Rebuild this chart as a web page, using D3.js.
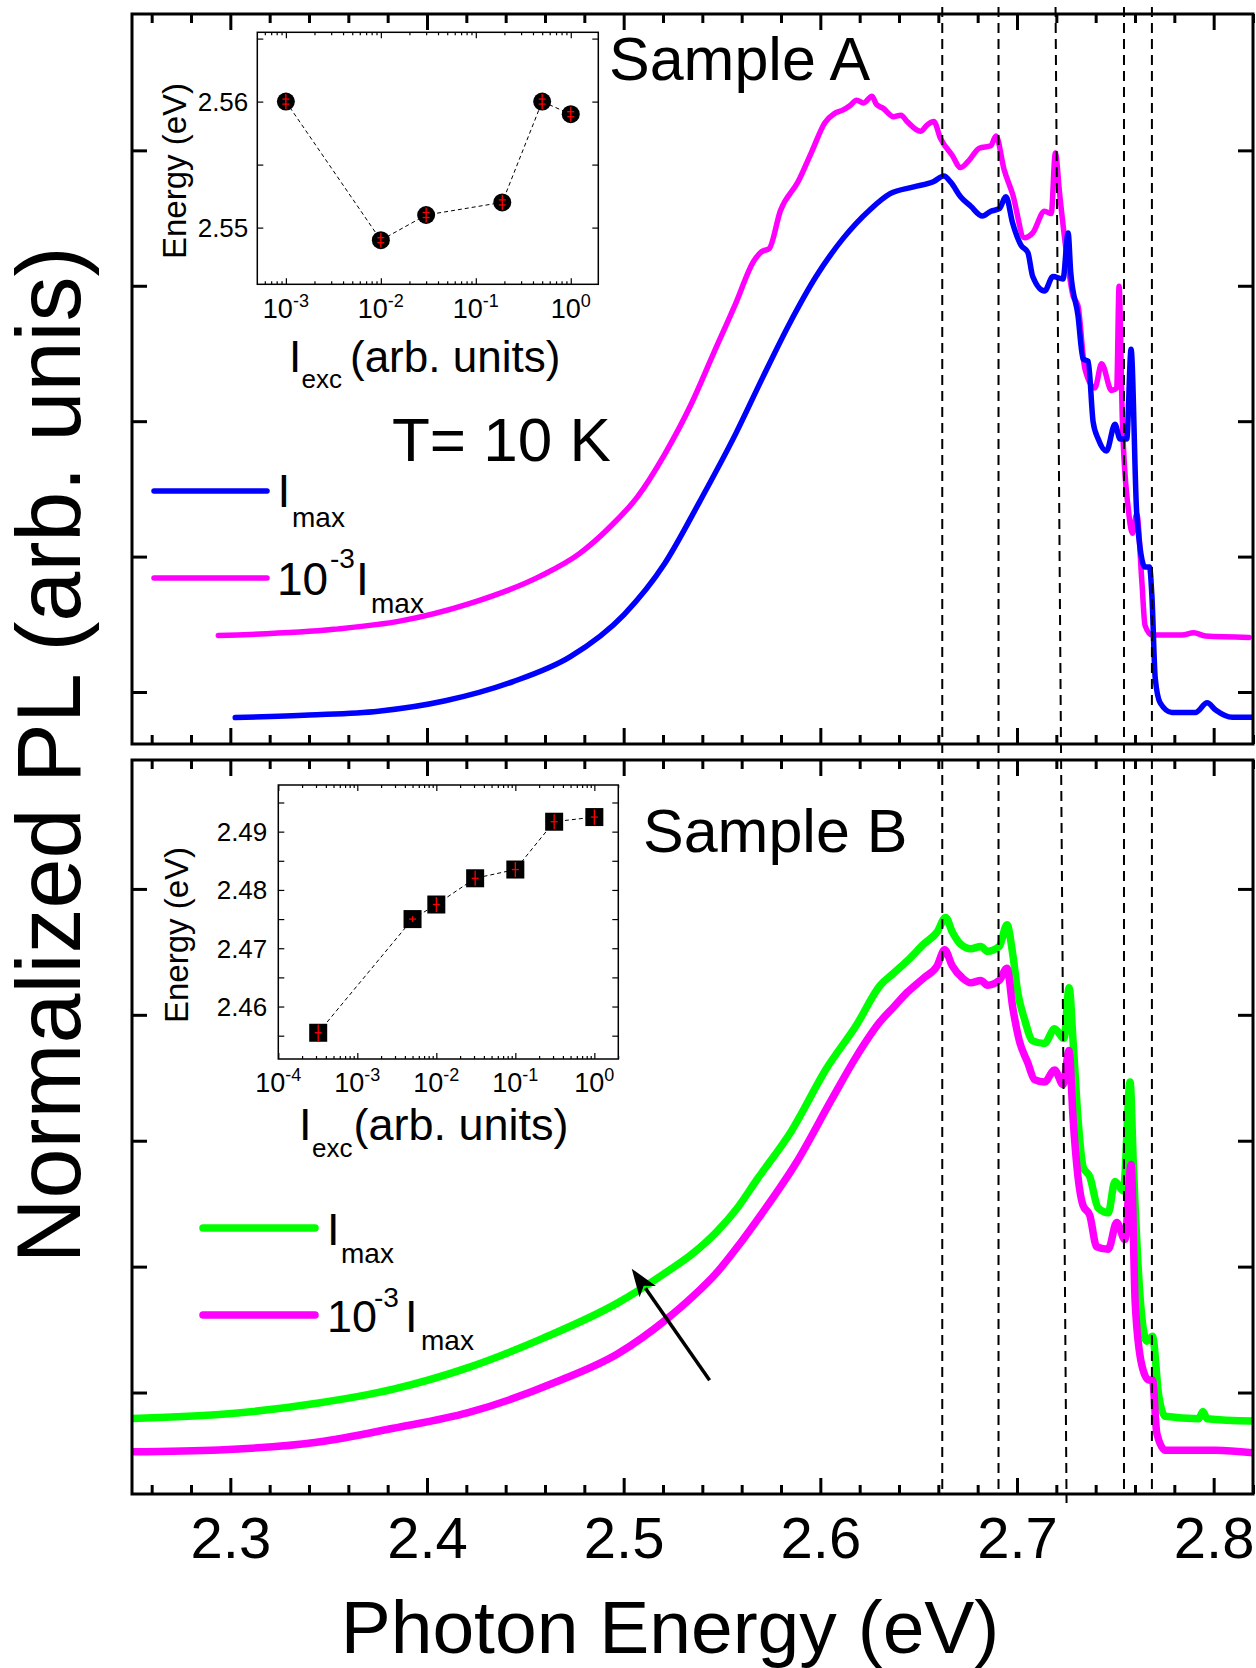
<!DOCTYPE html>
<html><head><meta charset="utf-8">
<script src="https://cdn.jsdelivr.net/npm/d3@7"></script>
<style>
body{margin:0;background:#fff}
svg{display:block;background:#fff}
text{font-family:"Liberation Sans",Arial,Helvetica,sans-serif;fill:#000}
</style>
</head><body>
<svg id="chart" width="1256" height="1668"></svg>
<script>
// ---------------- data ----------------
const xTicks = [2.3, 2.4, 2.5, 2.6, 2.7, 2.8];
const xTickLabels = ["2.3", "2.4", "2.5", "2.6", "2.7", "2.8"];
const yTicksMain = [0, 1, 2, 3, 4];
const dashedLines = [2.662, 2.6906, 2.7544, 2.7686];
const slantedLine = [2.7196, 2.7252];

// Sample A, I_max (blue)
const sampleA_Imax = [[2.3025,-0.189],[2.3400,-0.170],[2.3753,-0.142],[2.4093,-0.065],[2.4434,0.075],[2.4729,0.261],[2.5002,0.572],[2.5207,0.945],[2.5388,1.410],[2.5570,1.908],[2.5706,2.320],[2.5843,2.720],[2.5979,3.070],[2.6116,3.350],[2.6251,3.560],[2.6355,3.680],[2.6475,3.730],[2.6577,3.770],[2.6628,3.810],[2.6663,3.765],[2.6713,3.658],[2.6765,3.587],[2.6824,3.515],[2.6867,3.551],[2.6910,3.569],[2.6944,3.658],[2.6978,3.461],[2.7020,3.300],[2.7055,3.247],[2.7080,3.068],[2.7140,2.961],[2.7183,3.068],[2.7234,3.050],[2.7260,3.390],[2.7273,3.104],[2.7310,2.782],[2.7336,2.460],[2.7362,2.442],[2.7387,1.995],[2.7413,1.869],[2.7455,1.780],[2.7498,1.977],[2.7524,1.869],[2.7558,1.869],[2.7580,2.531],[2.7609,1.315],[2.7651,0.923],[2.7674,0.923],[2.7686,0.708],[2.7703,0.099],[2.7728,-0.080],[2.7788,-0.151],[2.7907,-0.151],[2.7967,-0.080],[2.8010,-0.133],[2.8095,-0.187],[2.8206,-0.187]];
// Sample A, 10^-3 I_max (magenta)
const sampleA_low = [[2.2939,0.417],[2.3526,0.463],[2.3867,0.525],[2.4207,0.649],[2.4571,0.852],[2.4775,1.022],[2.4934,1.224],[2.5070,1.441],[2.5207,1.752],[2.5343,2.125],[2.5456,2.497],[2.5570,2.870],[2.5661,3.181],[2.5700,3.250],[2.5740,3.274],[2.5797,3.554],[2.5888,3.771],[2.5956,3.989],[2.6024,4.206],[2.6070,4.270],[2.6116,4.299],[2.6150,4.330],[2.6185,4.370],[2.6220,4.350],[2.6263,4.400],[2.6285,4.340],[2.6320,4.310],[2.6372,4.249],[2.6410,4.260],[2.6441,4.213],[2.6509,4.141],[2.6545,4.190],[2.6577,4.213],[2.6611,4.088],[2.6671,3.962],[2.6713,3.873],[2.6756,3.926],[2.6808,4.016],[2.6867,4.034],[2.6893,4.106],[2.6935,3.855],[2.6978,3.676],[2.7038,3.354],[2.7080,3.390],[2.7140,3.551],[2.7174,3.533],[2.7195,3.980],[2.7217,3.676],[2.7251,3.247],[2.7285,2.925],[2.7310,2.853],[2.7345,2.388],[2.7396,2.245],[2.7430,2.424],[2.7481,2.227],[2.7507,2.245],[2.7519,2.996],[2.7536,1.995],[2.7566,1.351],[2.7587,1.172],[2.7609,1.315],[2.7635,0.814],[2.7651,0.492],[2.7686,0.421],[2.7839,0.421],[2.7899,0.438],[2.7958,0.413],[2.8180,0.403]];
// Sample B, I_max (green)
const sampleB_Imax = [[2.2500,-0.206],[2.2943,-0.175],[2.3449,-0.083],[2.3829,0.027],[2.4209,0.198],[2.4588,0.430],[2.4968,0.710],[2.5221,0.960],[2.5348,1.100],[2.5475,1.280],[2.5580,1.470],[2.5677,1.690],[2.5854,2.080],[2.6032,2.575],[2.6183,2.917],[2.6305,3.235],[2.6373,3.331],[2.6441,3.427],[2.6526,3.562],[2.6594,3.658],[2.6637,3.774],[2.6671,3.658],[2.6713,3.562],[2.6765,3.524],[2.6816,3.543],[2.6850,3.504],[2.6910,3.543],[2.6949,3.716],[2.6978,3.485],[2.7004,3.177],[2.7038,2.966],[2.7080,2.793],[2.7140,2.773],[2.7191,2.889],[2.7239,2.812],[2.7265,3.216],[2.7285,2.793],[2.7310,2.178],[2.7336,1.792],[2.7370,1.715],[2.7413,1.465],[2.7464,1.427],[2.7498,1.677],[2.7541,1.600],[2.7575,2.466],[2.7592,1.792],[2.7626,0.754],[2.7660,0.408],[2.7689,0.446],[2.7720,-0.016],[2.7754,-0.189],[2.7925,-0.208],[2.7945,-0.150],[2.7967,-0.208],[2.8200,-0.227]];
// Sample B, 10^-3 I_max (magenta)
const sampleB_low = [[2.2500,-0.471],[2.2943,-0.456],[2.3449,-0.393],[2.3829,-0.284],[2.4209,-0.160],[2.4665,0.089],[2.4968,0.306],[2.5221,0.586],[2.5350,0.760],[2.5475,0.955],[2.5590,1.180],[2.5702,1.420],[2.5879,1.829],[2.6057,2.326],[2.6183,2.668],[2.6305,2.947],[2.6373,3.062],[2.6441,3.177],[2.6526,3.293],[2.6594,3.389],[2.6632,3.516],[2.6671,3.389],[2.6722,3.293],[2.6765,3.254],[2.6816,3.273],[2.6850,3.235],[2.6910,3.273],[2.6949,3.370],[2.6978,3.062],[2.7012,2.793],[2.7055,2.619],[2.7089,2.485],[2.7140,2.466],[2.7191,2.562],[2.7234,2.446],[2.7265,2.716],[2.7285,2.178],[2.7310,1.715],[2.7336,1.485],[2.7370,1.408],[2.7405,1.158],[2.7464,1.138],[2.7507,1.350],[2.7549,1.215],[2.7580,1.811],[2.7601,0.715],[2.7635,0.215],[2.7669,0.100],[2.7689,0.100],[2.7711,-0.324],[2.7754,-0.458],[2.8010,-0.458],[2.8200,-0.478]];

// Insets
const insetA_I = [0.001, 0.01, 0.03, 0.19, 0.5, 1];
const insetA_E = [2.560, 2.549, 2.551, 2.552, 2.560, 2.559];
const insetA_err = [0.0006, 0.0006, 0.0006, 0.0006, 0.0006, 0.0006];
const insetA_yTicks = [2.55, 2.555, 2.56, 2.565];
const insetA_yLabels = [2.55, 2.56];
const insetB_I = [3.2e-4, 5e-3, 1e-2, 3.1e-2, 0.1, 0.31, 1];
const insetB_E = [2.4555, 2.4750, 2.4775, 2.4820, 2.4835, 2.4917, 2.4925];
const insetB_err = [0.0014, 0.0005, 0.0013, 0.0013, 0.0013, 0.0013, 0.0013];
const insetB_yTicks = [2.455, 2.46, 2.465, 2.47, 2.475, 2.48, 2.485, 2.49, 2.495];
const insetB_yLabels = [2.46, 2.47, 2.48, 2.49];

// arrow (bottom panel data coords): from -> to
const arrowFrom = [2.5437, 0.097];
const arrowTo = [2.5041, 0.984];

// ---------------- drawing ----------------
const svg = d3.select('#chart');
const BLUE = '#0000ff', MAG = '#ff00ff', GREEN = '#00ff00';

const x = d3.scaleLinear().domain([2.25, 2.82]).range([132, 1253]);
const panels = [
  { y: d3.scaleLinear().domain([-0.384, 5.007]).range([744, 14]), top: 14, bottom: 744, lw: 5.5,
    series: [{ data: sampleA_low, color: MAG }, { data: sampleA_Imax, color: BLUE }] },
  { y: d3.scaleLinear().domain([-0.806, 5.024]).range([1494, 760]), top: 760, bottom: 1494, lw: 7.5,
    series: [{ data: sampleB_Imax, color: GREEN }, { data: sampleB_low, color: MAG }] }
];
const X0 = x.range()[0], X1 = x.range()[1];

const defs = svg.append('defs');
panels.forEach((p, i) => {
  defs.append('clipPath').attr('id', 'clip' + i).append('rect')
    .attr('x', X0).attr('y', p.top).attr('width', X1 - X0).attr('height', p.bottom - p.top);
});

const minorX = d3.range(2.26, 2.8201, 0.02).filter(v => !xTicks.some(t => Math.abs(t - v) < 1e-6));

panels.forEach((p, i) => {
  const g = svg.append('g');
  const line = d3.line().x(d => x(d[0])).y(d => p.y(d[1])).curve(d3.curveMonotoneX);
  const cg = g.append('g').attr('clip-path', `url(#clip${i})`);
  p.series.forEach(s => {
    cg.append('path').datum(s.data).attr('d', line).attr('fill', 'none')
      .attr('stroke', s.color).attr('stroke-width', p.lw)
      .attr('stroke-linejoin', 'round').attr('stroke-linecap', 'round');
  });
  const style = a => { a.select('.domain').remove(); a.selectAll('line').attr('stroke', '#000').attr('stroke-width', 3); };
  const bot = g.append('g').attr('transform', `translate(0,${p.bottom})`)
    .call(d3.axisBottom(x).tickValues(xTicks).tickSize(-16).tickPadding(23)
      .tickFormat((d, k) => i === 1 ? xTickLabels[k] : ''));
  style(bot);
  bot.selectAll('text').attr('font-size', 58).attr('font-family', '"Liberation Sans",Arial,sans-serif').attr('fill', '#000');
  style(g.append('g').attr('transform', `translate(0,${p.bottom})`).call(d3.axisBottom(x).tickValues(minorX).tickSize(-9).tickFormat('')));
  style(g.append('g').attr('transform', `translate(0,${p.top})`).call(d3.axisTop(x).tickValues(xTicks).tickSize(-16).tickFormat('')));
  style(g.append('g').attr('transform', `translate(0,${p.top})`).call(d3.axisTop(x).tickValues(minorX).tickSize(-9).tickFormat('')));
  style(g.append('g').attr('transform', `translate(${X0},0)`).call(d3.axisLeft(p.y).tickValues(yTicksMain).tickSize(-15).tickFormat('')));
  style(g.append('g').attr('transform', `translate(${X1},0)`).call(d3.axisRight(p.y).tickValues(yTicksMain).tickSize(-15).tickFormat('')));
  g.append('rect').attr('x', X0).attr('y', p.top).attr('width', X1 - X0).attr('height', p.bottom - p.top)
    .attr('fill', 'none').attr('stroke', '#000').attr('stroke-width', 3);
});

// dashed guide lines crossing both panels
const dg = svg.append('g').attr('stroke', '#000').attr('stroke-width', 2).attr('stroke-dasharray', '10,6').attr('fill', 'none');
dashedLines.forEach(v => {
  dg.append('line').attr('x1', x(v)).attr('x2', x(v)).attr('y1', 7).attr('y2', 1494);
});
dg.append('line').attr('x1', x(slantedLine[0])).attr('x2', x(slantedLine[1])).attr('y1', 7).attr('y2', 1503);

// ---------------- insets ----------------
function drawInset(cfg) {
  const g = svg.append('g');
  const [l, r] = cfg.ix.range(); const [b, t] = cfg.iy.range();
  g.append('rect').attr('x', l).attr('y', t).attr('width', r - l).attr('height', b - t).attr('fill', '#fff');
  const st = a => { a.select('.domain').remove(); a.selectAll('line').attr('stroke', '#000').attr('stroke-width', 1.2); };
  const dom = cfg.ix.domain();
  const decades = [], minors = [];
  for (let e = -5; e <= 1; e++) {
    const dv = Math.pow(10, e);
    if (dv >= dom[0] * 0.999 && dv <= dom[1]) decades.push(dv);
    for (let m = 2; m <= 9; m++) { const v = m * dv; if (v > dom[0] && v < dom[1]) minors.push(v); }
  }
  st(g.append('g').attr('transform', `translate(0,${b})`).call(d3.axisBottom(cfg.ix).tickValues(decades).tickSize(-6).tickFormat('')));
  st(g.append('g').attr('transform', `translate(0,${b})`).call(d3.axisBottom(cfg.ix).tickValues(minors).tickSize(-3).tickFormat('')));
  st(g.append('g').attr('transform', `translate(0,${t})`).call(d3.axisTop(cfg.ix).tickValues(decades).tickSize(-6).tickFormat('')));
  st(g.append('g').attr('transform', `translate(0,${t})`).call(d3.axisTop(cfg.ix).tickValues(minors).tickSize(-3).tickFormat('')));
  st(g.append('g').attr('transform', `translate(${l},0)`).call(d3.axisLeft(cfg.iy).tickValues(cfg.yTicks).tickSize(-6).tickFormat('')));
  st(g.append('g').attr('transform', `translate(${r},0)`).call(d3.axisRight(cfg.iy).tickValues(cfg.yTicks).tickSize(-6).tickFormat('')));
  g.append('rect').attr('x', l).attr('y', t).attr('width', r - l).attr('height', b - t)
    .attr('fill', 'none').attr('stroke', '#000').attr('stroke-width', 1.5);
  decades.forEach(v => {
    const e = Math.round(Math.log10(v));
    const tx = g.append('text').attr('x', cfg.ix(v)).attr('y', cfg.xLabelY).attr('text-anchor', 'middle').attr('font-size', 27);
    tx.append('tspan').text('10');
    tx.append('tspan').attr('font-size', 18).attr('dy', -11).text(String(e));
  });
  cfg.yLabels.forEach(v => {
    g.append('text').attr('x', l - cfg.yLabelGap).attr('y', cfg.iy(v)).attr('dy', '0.36em')
      .attr('text-anchor', 'end').attr('font-size', 26).text(v.toFixed(2));
  });
  g.append('text').attr('transform', `translate(${cfg.eLabel[0]},${cfg.eLabel[1]}) rotate(-90)`)
    .attr('text-anchor', 'middle').attr('font-size', 33).text('Energy (eV)');
  const il = g.append('text').attr('font-size', cfg.iLabel.fs);
  il.append('tspan').attr('x', cfg.iLabel.I[0]).attr('y', cfg.iLabel.I[1]).text('I');
  il.append('tspan').attr('x', cfg.iLabel.sub[0]).attr('y', cfg.iLabel.sub[1]).attr('font-size', 26).text('exc');
  il.append('tspan').attr('x', cfg.iLabel.rest[0]).attr('y', cfg.iLabel.I[1]).text('(arb. units)');
  const pts = cfg.xs.map((v, k) => [v, cfg.ys[k]]);
  g.append('path').datum(pts).attr('d', d3.line().x(d => cfg.ix(d[0])).y(d => cfg.iy(d[1])))
    .attr('fill', 'none').attr('stroke', '#000').attr('stroke-width', 1).attr('stroke-dasharray', '4,3');
  pts.forEach((d, k) => {
    const cx = cfg.ix(d[0]), cy = cfg.iy(d[1]);
    if (cfg.shape === 'circle') {
      g.append('circle').attr('cx', cx).attr('cy', cy).attr('r', 9).attr('fill', '#000');
    } else {
      g.append('rect').attr('x', cx - 9).attr('y', cy - 9).attr('width', 18).attr('height', 18).attr('fill', '#000');
    }
    const e1 = cfg.iy(d[1] + cfg.err[k]), e2 = cfg.iy(d[1] - cfg.err[k]);
    const eg = g.append('g').attr('stroke', '#ff0000').attr('stroke-width', 1.3);
    eg.append('line').attr('x1', cx).attr('x2', cx).attr('y1', e1).attr('y2', e2);
    if (cfg.shape === 'circle') {
      eg.append('line').attr('x1', cx - 3.5).attr('x2', cx + 3.5).attr('y1', cy - 2.5).attr('y2', cy - 2.5);
      eg.append('line').attr('x1', cx - 3.5).attr('x2', cx + 3.5).attr('y1', cy + 2.5).attr('y2', cy + 2.5);
    } else {
      eg.append('line').attr('x1', cx - 3.5).attr('x2', cx + 3.5).attr('y1', cy).attr('y2', cy);
    }
  });
}

drawInset({
  ix: d3.scaleLog().domain([5e-4, 1.95]).range([257.3, 598.3]),
  iy: d3.scaleLinear().domain([2.5455, 2.5655]).range([284.3, 32.3]),
  xs: insetA_I, ys: insetA_E, err: insetA_err, shape: 'circle',
  yTicks: insetA_yTicks, yLabels: insetA_yLabels, yLabelGap: 9, xLabelY: 318,
  eLabel: [186, 171],
  iLabel: { fs: 44, I: [289, 372], sub: [301.5, 388], rest: [350, 372] }
});
drawInset({
  ix: d3.scaleLog().domain([1e-4, 2.01]).range([278.3, 618.3]),
  iy: d3.scaleLinear().domain([2.451, 2.498]).range([1059, 785]),
  xs: insetB_I, ys: insetB_E, err: insetB_err, shape: 'square',
  yTicks: insetB_yTicks, yLabels: insetB_yLabels, yLabelGap: 11, xLabelY: 1092,
  eLabel: [188, 935],
  iLabel: { fs: 45, I: [299, 1140], sub: [312, 1157], rest: [353.5, 1140] }
});

// ---------------- texts & legends ----------------
svg.append('text').attr('x', 609).attr('y', 80).attr('font-size', 61).text('Sample A');
svg.append('text').attr('x', 643).attr('y', 852).attr('font-size', 61).text('Sample B');
svg.append('text').attr('x', 392).attr('y', 461).attr('font-size', 62).text('T= 10 K');

function legendEntry(color, lx0, lx1, ly, lw, texts) {
  svg.append('line').attr('x1', lx0).attr('x2', lx1).attr('y1', ly).attr('y2', ly)
    .attr('stroke', color).attr('stroke-width', lw).attr('stroke-linecap', 'round');
  const t = svg.append('text');
  texts.forEach(s => t.append('tspan').attr('x', s[0]).attr('y', s[1]).attr('font-size', s[2]).text(s[3]));
}
legendEntry(BLUE, 154, 267, 491, 5.5, [[277.5, 507, 46, 'I'], [292, 527, 28, 'max']]);
legendEntry(MAG, 154, 267, 578, 5.5, [[277, 595, 46, '10'], [330, 568, 28, '-3'], [356, 595, 46, 'I'], [371, 613, 28, 'max']]);
legendEntry(GREEN, 203, 315, 1228, 7.5, [[327, 1245, 45, 'I'], [341, 1263, 28, 'max']]);
legendEntry(MAG, 203, 315, 1315, 7.5, [[327, 1332, 45, '10'], [374, 1307, 28, '-3'], [405, 1332, 45, 'I'], [421, 1350, 28, 'max']]);

// arrow
(function () {
  const yb = panels[1].y;
  const x1 = x(arrowFrom[0]), y1 = yb(arrowFrom[1]), x2 = x(arrowTo[0]), y2 = yb(arrowTo[1]);
  const ang = Math.atan2(y2 - y1, x2 - x1), L = 28, W = 10;
  const bx = x2 - L * Math.cos(ang), by = y2 - L * Math.sin(ang);
  svg.append('line').attr('x1', x1).attr('y1', y1).attr('x2', bx + 4 * Math.cos(ang)).attr('y2', by + 4 * Math.sin(ang))
    .attr('stroke', '#000').attr('stroke-width', 3.5);
  const px = -Math.sin(ang), py = Math.cos(ang);
  svg.append('path').attr('d', `M${x2},${y2}L${bx + W * px},${by + W * py}L${bx + 7 * Math.cos(ang)},${by + 7 * Math.sin(ang)}L${bx - W * px},${by - W * py}Z`)
    .attr('fill', '#000');
})();

// axis titles
svg.append('text').attr('x', 670).attr('y', 1653).attr('text-anchor', 'middle').attr('font-size', 75).text('Photon Energy (eV)');
svg.append('text').attr('transform', 'translate(80,755) rotate(-90)').attr('text-anchor', 'middle').attr('font-size', 90).text('Normalized PL (arb. unis)');
</script>
</body></html>
